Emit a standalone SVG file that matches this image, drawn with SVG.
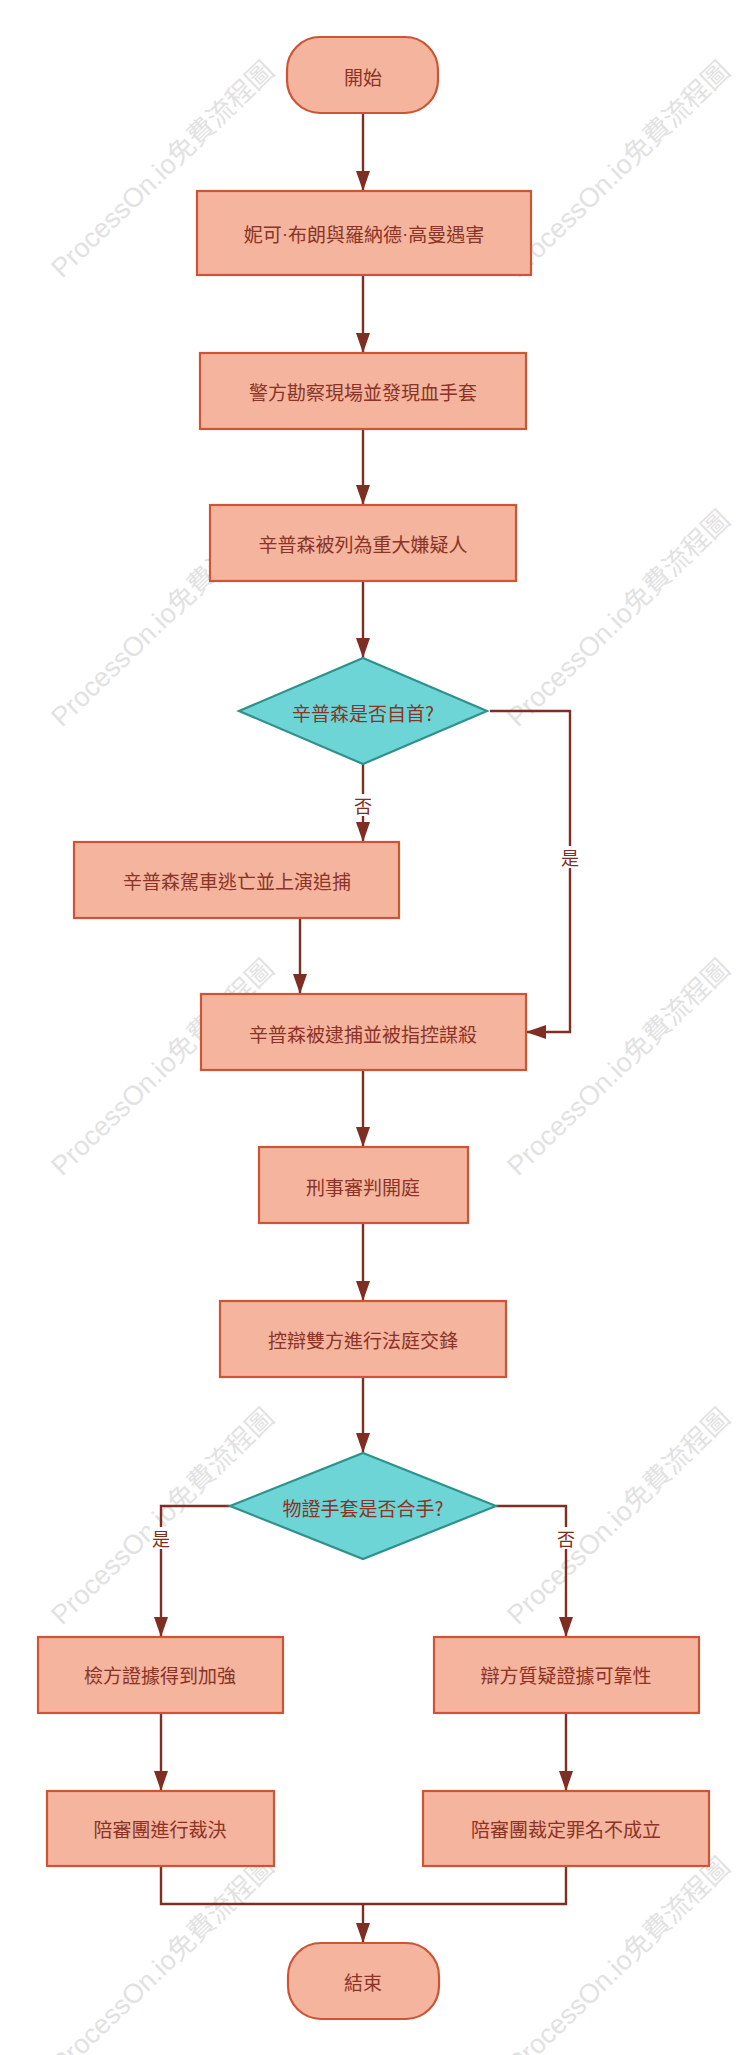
<svg xmlns="http://www.w3.org/2000/svg" width="746" height="2055" viewBox="0 0 746 2055">
<defs>
<style>
.node{fill:#F4B49E;stroke:#CB5535;stroke-width:2.2}
.dec{fill:#6DD5D6;stroke:#2F918C;stroke-width:2.2}
.t{font-family:"Noto Sans CJK TC","Noto Sans CJK SC",sans-serif;font-size:19px;fill:#8A3326;text-anchor:middle;dominant-baseline:central}
.lat{font-family:"Liberation Sans",sans-serif}
.lbl{font-family:"Noto Sans CJK TC","Noto Sans CJK SC",sans-serif;font-size:18px;fill:#7E2E22;text-anchor:middle;dominant-baseline:central}
.lb{fill:#FFFFFF}
.c{fill:none;stroke:#7E2E22;stroke-width:2.4}
.wm{font-family:"Liberation Sans","Noto Sans CJK TC",sans-serif;font-size:27px;fill:#E2E2E2}
</style>
<marker id="arr" markerUnits="userSpaceOnUse" markerWidth="20" markerHeight="14" refX="20" refY="7" orient="auto">
<path d="M0,0 L20,7 L0,14 z" fill="#7E2E22"/>
</marker>
</defs>
<rect x="0" y="0" width="746" height="2055" fill="#FFFFFF"/>
<g id="watermarks">
<text class="wm" transform="translate(62,279) rotate(-44)">ProcessOn.io免費流程圖</text>
<text class="wm" transform="translate(518,279) rotate(-44)">ProcessOn.io免費流程圖</text>
<text class="wm" transform="translate(62,728) rotate(-44)">ProcessOn.io免費流程圖</text>
<text class="wm" transform="translate(518,728) rotate(-44)">ProcessOn.io免費流程圖</text>
<text class="wm" transform="translate(62,1177) rotate(-44)">ProcessOn.io免費流程圖</text>
<text class="wm" transform="translate(518,1177) rotate(-44)">ProcessOn.io免費流程圖</text>
<text class="wm" transform="translate(62,1626) rotate(-44)">ProcessOn.io免費流程圖</text>
<text class="wm" transform="translate(518,1626) rotate(-44)">ProcessOn.io免費流程圖</text>
<text class="wm" transform="translate(62,2075) rotate(-44)">ProcessOn.io免費流程圖</text>
<text class="wm" transform="translate(518,2075) rotate(-44)">ProcessOn.io免費流程圖</text>
</g>
<g id="connectors">
<path class="c" d="M363,113 L363,191" marker-end="url(#arr)"/>
<path class="c" d="M363,275 L363,353" marker-end="url(#arr)"/>
<path class="c" d="M363,429 L363,505" marker-end="url(#arr)"/>
<path class="c" d="M363,581 L363,658" marker-end="url(#arr)"/>
<path class="c" d="M363,764 L363,842" marker-end="url(#arr)"/>
<path class="c" d="M490,711 L570,711 L570,1032 L526,1032" marker-end="url(#arr)"/>
<path class="c" d="M300,918 L300,994" marker-end="url(#arr)"/>
<path class="c" d="M363,1070 L363,1147" marker-end="url(#arr)"/>
<path class="c" d="M363,1223 L363,1301" marker-end="url(#arr)"/>
<path class="c" d="M363,1377 L363,1453" marker-end="url(#arr)"/>
<path class="c" d="M230,1506 L161,1506 L161,1637" marker-end="url(#arr)"/>
<path class="c" d="M496,1506 L566,1506 L566,1637" marker-end="url(#arr)"/>
<path class="c" d="M161,1713 L161,1791" marker-end="url(#arr)"/>
<path class="c" d="M566,1713 L566,1791" marker-end="url(#arr)"/>
<path class="c" d="M161,1866 L161,1904 L566,1904 L566,1866"/>
<path class="c" d="M363,1904 L363,1943" marker-end="url(#arr)"/>
<rect class="lb" x="352" y="794" width="22" height="22"/>
<text class="lbl" x="363" y="805">否</text>
<rect class="lb" x="559" y="846" width="22" height="22"/>
<text class="lbl" x="570" y="857">是</text>
<rect class="lb" x="150" y="1527" width="22" height="22"/>
<text class="lbl" x="161" y="1538">是</text>
<rect class="lb" x="555" y="1527" width="22" height="22"/>
<text class="lbl" x="566" y="1538">否</text>
</g>
<g id="start"><rect class="node" x="287" y="37" width="151" height="76" rx="33" ry="33"/><text class="t" x="363" y="76">開始</text></g>
<g id="n1"><rect class="node" x="197" y="191" width="334" height="84"/><text class="t" x="364" y="233">妮可<tspan class="lat">·</tspan>布朗與羅納德<tspan class="lat">·</tspan>高曼遇害</text></g>
<g id="n2"><rect class="node" x="200" y="353" width="326" height="76"/><text class="t" x="363" y="391">警方勘察現場並發現血手套</text></g>
<g id="n3"><rect class="node" x="210" y="505" width="306" height="76"/><text class="t" x="363" y="543">辛普森被列為重大嫌疑人</text></g>
<g id="d1"><polygon class="dec" points="363,658 487,711 363,764 239,711"/><text class="t" x="363" y="712">辛普森是否自首?</text></g>
<g id="n4"><rect class="node" x="74" y="842" width="325" height="76"/><text class="t" x="237" y="880">辛普森駕車逃亡並上演追捕</text></g>
<g id="n5"><rect class="node" x="201" y="994" width="325" height="76"/><text class="t" x="363" y="1033">辛普森被逮捕並被指控謀殺</text></g>
<g id="n6"><rect class="node" x="259" y="1147" width="209" height="76"/><text class="t" x="363" y="1186">刑事審判開庭</text></g>
<g id="n7"><rect class="node" x="220" y="1301" width="286" height="76"/><text class="t" x="363" y="1339">控辯雙方進行法庭交鋒</text></g>
<g id="d2"><polygon class="dec" points="363,1453 496,1506 363,1559 230,1506"/><text class="t" x="363" y="1507">物證手套是否合手?</text></g>
<g id="n8"><rect class="node" x="38" y="1637" width="245" height="76"/><text class="t" x="160" y="1674">檢方證據得到加強</text></g>
<g id="n9"><rect class="node" x="434" y="1637" width="265" height="76"/><text class="t" x="566" y="1674">辯方質疑證據可靠性</text></g>
<g id="n10"><rect class="node" x="47" y="1791" width="227" height="75"/><text class="t" x="160" y="1828">陪審團進行裁決</text></g>
<g id="n11"><rect class="node" x="423" y="1791" width="286" height="75"/><text class="t" x="566" y="1828">陪審團裁定罪名不成立</text></g>
<g id="end"><rect class="node" x="288" y="1943" width="151" height="76" rx="33" ry="33"/><text class="t" x="363" y="1981">結束</text></g>
</svg>
